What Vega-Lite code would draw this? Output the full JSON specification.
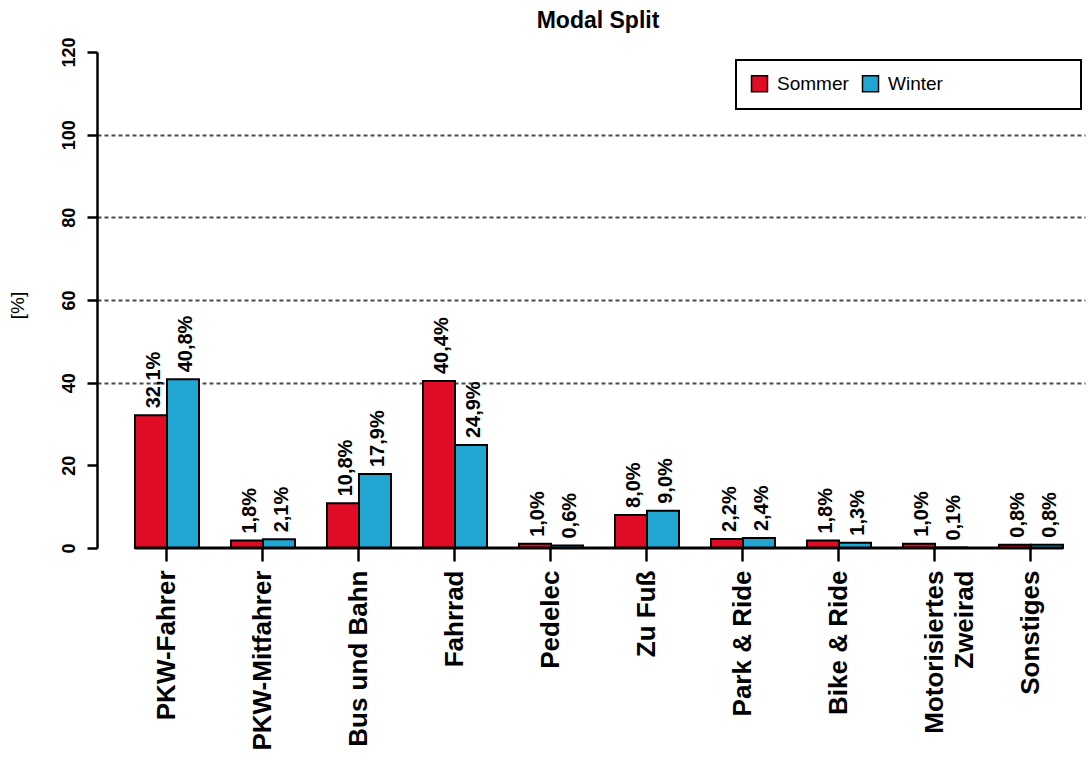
{
  "$schema": "https://vega.github.io/schema/vega-lite/v6.json",
  "width": 988,
  "height": 496,
  "autosize": {"type": "none"},
  "padding": {"left": 97, "top": 52, "right": 6, "bottom": 212},
  "title": {"text": "Modal Split", "fontSize": 23, "fontWeight": "bold", "font": "Liberation Sans", "anchor": "middle", "dx": 7, "color": "black"},
  "config": {"view": {"stroke": null}, "font": "Liberation Sans", "legend": {"strokeWidth": 2}},
  "layer": [
    {
      "data": {"values": [
        {"Verkehrsmittel": "PKW-Fahrer", "Saison": "Sommer", "Anteil": 32.1, "Label": "32,1%"},
        {"Verkehrsmittel": "PKW-Fahrer", "Saison": "Winter", "Anteil": 40.8, "Label": "40,8%"},
        {"Verkehrsmittel": "PKW-Mitfahrer", "Saison": "Sommer", "Anteil": 1.8, "Label": "1,8%"},
        {"Verkehrsmittel": "PKW-Mitfahrer", "Saison": "Winter", "Anteil": 2.1, "Label": "2,1%"},
        {"Verkehrsmittel": "Bus und Bahn", "Saison": "Sommer", "Anteil": 10.8, "Label": "10,8%"},
        {"Verkehrsmittel": "Bus und Bahn", "Saison": "Winter", "Anteil": 17.9, "Label": "17,9%"},
        {"Verkehrsmittel": "Fahrrad", "Saison": "Sommer", "Anteil": 40.4, "Label": "40,4%"},
        {"Verkehrsmittel": "Fahrrad", "Saison": "Winter", "Anteil": 24.9, "Label": "24,9%"},
        {"Verkehrsmittel": "Pedelec", "Saison": "Sommer", "Anteil": 1.0, "Label": "1,0%"},
        {"Verkehrsmittel": "Pedelec", "Saison": "Winter", "Anteil": 0.6, "Label": "0,6%"},
        {"Verkehrsmittel": "Zu Fuß", "Saison": "Sommer", "Anteil": 8.0, "Label": "8,0%"},
        {"Verkehrsmittel": "Zu Fuß", "Saison": "Winter", "Anteil": 9.0, "Label": "9,0%"},
        {"Verkehrsmittel": "Park & Ride", "Saison": "Sommer", "Anteil": 2.2, "Label": "2,2%"},
        {"Verkehrsmittel": "Park & Ride", "Saison": "Winter", "Anteil": 2.4, "Label": "2,4%"},
        {"Verkehrsmittel": "Bike & Ride", "Saison": "Sommer", "Anteil": 1.8, "Label": "1,8%"},
        {"Verkehrsmittel": "Bike & Ride", "Saison": "Winter", "Anteil": 1.3, "Label": "1,3%"},
        {"Verkehrsmittel": "Motorisiertes Zweirad", "Saison": "Sommer", "Anteil": 1.0, "Label": "1,0%"},
        {"Verkehrsmittel": "Motorisiertes Zweirad", "Saison": "Winter", "Anteil": 0.1, "Label": "0,1%"},
        {"Verkehrsmittel": "Sonstiges", "Saison": "Sommer", "Anteil": 0.8, "Label": "0,8%"},
        {"Verkehrsmittel": "Sonstiges", "Saison": "Winter", "Anteil": 0.8, "Label": "0,8%"}
      ]},
      "encoding": {
        "x": {
          "field": "Verkehrsmittel", "type": "nominal", "title": null,
          "scale": {"domain": ["PKW-Fahrer", "PKW-Mitfahrer", "Bus und Bahn", "Fahrrad", "Pedelec", "Zu Fuß", "Park & Ride", "Bike & Ride", "Motorisiertes Zweirad", "Sonstiges"], "paddingInner": 0.33333, "paddingOuter": 0.3125, "align": 0.633},
          "axis": {"title": null, "domain": false, "grid": false, "bandPosition": 0.5, "tickSize": 13, "tickWidth": 2.5, "tickColor": "black", "labelAngle": 270, "labelAlign": "right", "labelBaseline": "middle", "labelPadding": 9, "labelFontSize": 26, "labelFontWeight": "bold", "labelFont": "Liberation Sans", "labelColor": "black", "labelLimit": 400, "labelLineHeight": 30, "labelExpr": "datum.label == 'Motorisiertes Zweirad' ? ['Motorisiertes', 'Zweirad'] : datum.label"}
        },
        "xOffset": {"field": "Saison", "type": "nominal", "scale": {"domain": ["Sommer", "Winter"]}},
        "y": {
          "field": "Anteil", "type": "quantitative", "title": "[%]",
          "scale": {"domain": [0, 120], "nice": false},
          "axis": {"title": "[%]", "values": [0, 20, 40, 60, 80, 100, 120], "grid": true, "gridOpacity": {"condition": {"test": "datum.value >= 40 && datum.value <= 100", "value": 1}, "value": 0}, "gridDash": [4, 3], "gridColor": "#4a4a4a", "gridWidth": 2, "domainColor": "black", "domainWidth": 2.5, "tickColor": "black", "tickWidth": 2.5, "tickSize": 10, "labelAngle": 270, "labelAlign": "center", "labelBaseline": "alphabetic", "labelPadding": 13, "labelFontSize": 18, "labelFontWeight": "bold", "labelColor": "black", "labelFont": "Liberation Sans", "titleFont": "Liberation Sans", "titleFontSize": 19, "titleFontWeight": "normal", "titleColor": "black", "titleAngle": 270, "titleX": -80, "titleY": 253, "titleAlign": "center", "titleBaseline": "middle"}
        }
      },
      "layer": [
        {
          "mark": {"type": "bar", "stroke": "black", "strokeWidth": 2},
          "encoding": {
            "color": {
              "field": "Saison", "type": "nominal",
              "scale": {"domain": ["Sommer", "Winter"], "range": ["#E00B24", "#21A6D2"]},
              "legend": {"title": "MMMMMMMn", "titleOrient": "right", "titleOpacity": 0, "titleFontSize": 19, "titleFont": "Liberation Sans", "titleFontWeight": "normal", "titlePadding": 2, "orient": "none", "legendX": 639, "legendY": 8, "direction": "horizontal", "fillColor": "white", "strokeColor": "black", "padding": 14, "symbolType": "square", "symbolSize": 256, "symbolStrokeColor": "black", "symbolStrokeWidth": 1.5, "symbolOpacity": 1, "labelFontSize": 19, "labelFont": "Liberation Sans", "labelColor": "black", "labelOffset": 8, "columnPadding": 10, "labelLimit": 500}
            }
          }
        },
        {
          "mark": {"type": "text", "angle": 270, "align": "left", "baseline": "middle", "dx": 7, "dy": 3, "fontSize": 20, "fontWeight": "bold", "font": "Liberation Sans", "color": "black"},
          "encoding": {"text": {"field": "Label"}}
        }
      ]
    },
    {
      "data": {"values": [{"von": "PKW-Fahrer", "bis": "Sonstiges"}]},
      "mark": {"type": "rule", "color": "black", "strokeWidth": 3},
      "encoding": {
        "x": {"field": "von", "type": "nominal", "title": null, "bandPosition": 0},
        "x2": {"field": "bis", "bandPosition": 1},
        "y": {"datum": 0, "type": "quantitative", "title": "[%]"}
      }
    }
  ]
}
